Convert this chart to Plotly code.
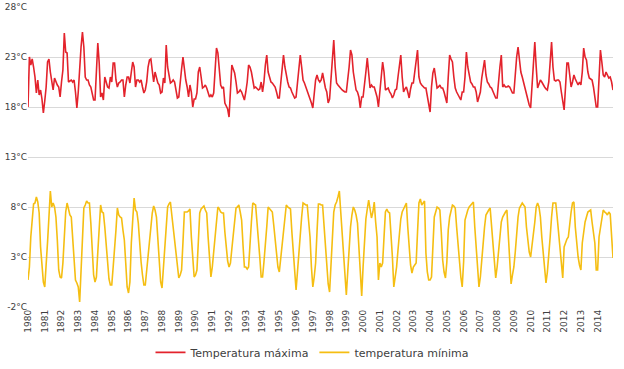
import plotly.graph_objects as go

year_labels = ["1980", "1981", "1892", "1983", "1984", "1985", "1986", "1987", "1988", "1989",
               "1990", "1991", "1992", "1993", "1994", "1995", "1996", "1997", "1998", "1999",
               "2000", "2001", "2002", "2003", "2004", "2005", "2006", "2007", "2008", "2009",
               "2010", "2011", "2012", "2013", "2014"]

y_ticks = [-2, 3, 8, 13, 18, 23, 28]
y_tick_labels = ["-2°C", "3°C", "8°C", "13°C", "18°C", "23°C", "28°C"]

# monthly maximum temperature, Jan 1980 - Dec 2014 (one row per year)
tmax = [
    18.0, 23.0, 22.2, 22.8, 22.0, 21.0, 19.4, 20.7, 19.2, 19.7, 18.8, 17.4,
    18.6, 20.0, 22.5, 22.8, 21.5, 20.7, 19.7, 20.9, 20.5, 20.2, 20.0, 19.0,
    20.5, 21.7, 25.4, 23.5, 23.4, 20.5, 20.6, 20.7, 20.5, 20.7, 19.5, 17.9,
    19.5, 22.0, 24.0, 25.5, 24.0, 21.0, 20.7, 20.7, 20.2, 20.0, 19.4, 18.7,
    18.7, 21.0, 24.4, 22.4, 19.0, 19.4, 18.7, 21.0, 20.5, 20.0, 19.9, 21.0,
    20.5, 22.4, 22.4, 20.7, 20.0, 20.4, 20.5, 20.7, 20.7, 19.0, 20.2, 21.0,
    21.0, 20.4, 21.5, 22.5, 22.0, 20.0, 20.7, 20.7, 20.5, 20.7, 20.0, 19.4,
    19.7, 20.5, 22.0, 22.7, 22.8, 21.7, 20.5, 21.5, 21.0, 20.4, 20.2, 19.4,
    19.5, 20.9, 20.4, 24.2, 22.0, 21.0, 20.4, 20.5, 20.7, 20.5, 19.8, 18.9,
    19.0, 20.7, 21.8, 23.0, 21.5, 20.7, 20.0, 19.0, 20.2, 19.5, 18.0, 18.8,
    18.8, 19.4, 21.5, 22.0, 21.0, 19.9, 20.0, 20.2, 19.9, 19.5, 19.0, 19.2,
    19.0, 19.4, 21.5, 23.9, 23.4, 21.5, 20.2, 19.9, 20.0, 18.4, 18.0, 17.8,
    17.0, 19.5, 22.2, 21.8, 21.4, 20.5, 19.4, 19.5, 19.7, 19.5, 19.0, 18.7,
    19.5, 20.5, 22.2, 22.0, 21.5, 20.5, 19.9, 20.0, 19.8, 19.7, 19.8, 20.5,
    19.5, 20.5, 22.2, 23.2, 21.5, 20.9, 20.5, 20.4, 20.2, 20.0, 19.5, 18.9,
    18.9, 20.5, 22.4, 23.2, 22.0, 21.0, 20.5, 20.0, 19.9, 19.5, 19.2, 18.9,
    19.0, 20.2, 21.4, 23.2, 22.0, 20.7, 20.4, 20.0, 19.8, 19.4, 19.0, 18.4,
    17.9, 19.5, 20.7, 21.2, 20.7, 20.5, 20.7, 21.4, 20.5, 19.9, 19.5, 18.4,
    18.8, 21.0, 23.2, 24.7, 22.0, 20.4, 20.2, 20.0, 19.9, 19.7, 19.6, 19.5,
    19.5, 20.5, 22.0, 23.7, 23.2, 21.5, 20.5, 19.7, 19.5, 19.0, 17.9, 19.0,
    19.0, 20.0, 21.5, 22.9, 21.0, 19.9, 20.2, 20.0, 20.0, 19.5, 19.0, 18.0,
    19.7, 21.0, 22.5, 21.5, 19.7, 19.8, 19.9, 19.5, 19.3, 18.9, 19.2, 19.7,
    19.8, 21.0, 22.2, 23.2, 21.0, 19.5, 19.8, 20.0, 19.5, 18.9, 19.8, 20.4,
    20.4, 21.5, 22.5, 23.7, 21.0, 20.4, 20.2, 20.0, 19.9, 19.9, 19.0, 18.0,
    17.5, 20.0, 21.4, 21.9, 21.0, 19.9, 20.0, 20.2, 19.9, 19.9, 19.5, 18.8,
    18.4, 21.0, 23.2, 22.8, 22.5, 21.0, 19.9, 19.5, 19.2, 18.9, 18.7, 19.5,
    19.5, 21.0, 23.5, 22.0, 21.0, 20.5, 20.3, 20.0, 20.0, 19.5, 18.5, 19.0,
    19.5, 20.9, 21.8, 22.7, 21.2, 20.5, 20.3, 20.0, 19.9, 19.5, 19.2, 18.9,
    18.9, 20.7, 22.0, 23.2, 20.0, 20.2, 20.0, 20.0, 20.1, 20.0, 19.7, 19.4,
    19.4, 21.5, 23.0, 24.0, 22.5, 21.5, 21.0, 20.4, 20.0, 19.5, 18.8, 18.2,
    17.9, 20.5, 22.7, 24.5, 22.0, 19.9, 20.3, 20.7, 20.5, 20.2, 20.0, 19.8,
    19.7, 20.5, 22.5, 24.5, 22.0, 20.7, 20.6, 20.7, 20.7, 20.5, 19.5, 18.5,
    17.7, 20.0, 22.4, 22.4, 21.0, 20.0, 20.5, 21.2, 20.8, 20.5, 20.2, 20.5,
    20.2, 21.5, 23.9, 23.0, 22.7, 21.5, 20.9, 20.8, 20.7, 20.0, 19.0, 18.0,
    18.0, 21.0, 23.7, 22.5, 21.2, 21.0, 21.5, 21.2, 20.9, 21.0, 20.5, 19.7,
]

# monthly minimum temperature, Jan 1980 - Dec 2014 (one row per year)
tmin = [
    0.7, 2.0, 5.0, 7.0, 8.3, 8.4, 9.0, 8.5, 7.4, 4.0, 1.8, 0.5,
    0.0, 1.8, 4.5, 7.0, 9.6, 8.0, 8.4, 8.0, 7.0, 4.7, 1.7, 1.0,
    0.9, 2.4, 5.0, 7.5, 8.4, 7.7, 7.2, 7.0, 5.0, 2.4, 0.7, 0.4,
    0.0, -1.5, 1.4, 5.5, 7.9, 8.2, 8.6, 8.4, 8.4, 6.4, 3.5, 1.2,
    0.5, 1.0, 3.5, 6.7, 8.2, 7.5, 7.4, 6.0, 4.5, 2.4, 0.8, 0.2,
    0.2, 2.0, 3.5, 5.7, 7.9, 7.2, 7.0, 6.9, 5.7, 4.7, 2.4, 0.0,
    -0.6, 0.5, 4.4, 6.7, 8.9, 7.7, 7.5, 6.4, 4.0, 2.5, 1.2, 0.2,
    0.2, 1.7, 3.5, 5.0, 6.5, 7.4, 8.1, 7.7, 7.0, 4.5, 2.4, 0.5,
    -0.1, 2.0, 4.0, 6.5, 8.0, 8.3, 8.5, 7.2, 6.0, 4.5, 3.4, 1.8,
    0.9, 1.2, 1.7, 4.5, 7.5, 7.5, 7.5, 7.6, 7.8, 5.0, 2.5, 1.0,
    1.2, 1.7, 4.5, 7.4, 7.8, 8.0, 8.1, 7.7, 7.4, 5.0, 2.8, 1.0,
    2.0, 3.5, 5.0, 6.5, 8.0, 7.8, 7.5, 7.4, 7.4, 5.5, 3.7, 2.6,
    2.0, 2.4, 3.8, 5.0, 6.5, 7.9, 8.0, 8.2, 7.5, 6.7, 4.2, 2.0,
    2.0, 1.8, 2.0, 4.7, 6.5, 8.4, 8.3, 8.2, 6.5, 5.0, 3.0, 1.0,
    1.0, 2.5, 4.0, 6.0, 8.0, 7.8, 7.6, 7.5, 6.2, 5.0, 3.5, 2.0,
    1.5, 2.8, 4.2, 5.4, 7.0, 8.2, 8.0, 7.9, 7.8, 5.5, 3.7, 1.5,
    -0.3, 1.5, 3.5, 5.0, 7.0, 8.4, 8.3, 8.2, 8.2, 6.5, 5.0, 2.0,
    0.0, 1.0, 2.4, 5.5, 8.3, 8.3, 8.2, 8.2, 6.0, 3.7, 1.5, 0.3,
    -0.5, 2.5, 5.7, 7.5, 8.2, 8.5, 9.0, 9.6, 7.5, 5.4, 2.5, 0.5,
    -0.8, 1.5, 4.0, 6.0, 7.2, 8.0, 7.7, 7.2, 6.4, 3.5, 1.0, -0.9,
    2.0, 5.0, 6.8, 7.8, 8.7, 7.8, 6.9, 7.5, 8.5, 6.5, 5.0, 0.7,
    2.4, 2.0, 2.4, 5.0, 7.5, 7.8, 7.5, 7.4, 5.5, 3.0, 0.0, 1.0,
    2.0, 3.7, 5.5, 6.8, 7.5, 7.8, 8.0, 8.4, 6.0, 3.7, 2.2, 1.4,
    2.0, 2.2, 2.4, 5.5, 8.4, 8.8, 8.2, 8.4, 8.6, 3.4, 1.5, 0.7,
    0.7, 1.0, 4.0, 7.0, 7.5, 8.0, 7.9, 7.7, 5.5, 2.7, 1.5, 0.9,
    2.5, 5.7, 7.0, 7.8, 8.2, 8.1, 7.9, 6.0, 4.0, 2.4, 1.0, 0.0,
    2.5, 6.7, 7.3, 7.7, 8.0, 8.2, 8.4, 8.5, 6.0, 3.7, 1.5, 0.0,
    1.0, 3.0, 4.5, 6.0, 7.2, 7.5, 7.7, 7.9, 6.0, 3.7, 2.0, 0.9,
    2.0, 3.7, 5.5, 6.5, 7.0, 7.3, 7.5, 7.7, 5.0, 2.5, 0.3, 1.2,
    2.0, 3.5, 5.5, 7.0, 7.9, 8.1, 8.4, 8.2, 8.0, 6.0, 4.4, 3.5,
    3.0, 4.0, 5.0, 6.5, 8.0, 8.4, 8.0, 7.0, 5.0, 3.5, 1.8, 0.4,
    1.5, 3.0, 5.0, 7.0, 8.4, 8.4, 8.4, 7.0, 5.5, 4.0, 2.0, 0.9,
    4.0, 4.5, 4.8, 5.0, 6.5, 7.5, 8.4, 8.5, 6.0, 4.0, 3.0, 2.2,
    1.7, 4.4, 5.5, 6.5, 7.0, 7.5, 7.6, 7.7, 6.5, 5.5, 4.4, 1.7,
    1.7, 5.0, 6.0, 7.0, 7.7, 7.5, 7.4, 7.2, 7.5, 7.3, 5.0, 2.9,
]

months = list(range(len(tmax)))
year_tick_pos = months[::12]

TEXT = "#404040"
FONT = "DejaVu Sans"

fig = go.Figure()
fig.add_trace(go.Scatter(x=months, y=tmax, mode="lines", name="Temperatura máxima",
                         line=dict(color="#E3232C", width=1.6)))
fig.add_trace(go.Scatter(x=months, y=tmin, mode="lines", name="temperatura mínima",
                         line=dict(color="#F5BE12", width=1.6)))

fig.update_layout(
    width=624, height=369,
    margin=dict(l=28, r=11, t=7, b=62, autoexpand=False),
    paper_bgcolor="white", plot_bgcolor="white",
    font=dict(family=FONT, color=TEXT, size=10),
    showlegend=True,
    legend=dict(orientation="h", xref="container", yref="container",
                x=0.5, xanchor="center", y=0.045, yanchor="middle",
                font=dict(size=11, color=TEXT), itemwidth=30,
                bgcolor="rgba(0,0,0,0)"),
    xaxis=dict(range=[0, len(tmax) - 1], tickmode="array", tickvals=year_tick_pos,
               ticktext=year_labels, tickangle=-90, showgrid=False, zeroline=False,
               showline=False, ticks="", tickfont=dict(size=9, color=TEXT)),
    yaxis=dict(range=[-2, 28], tickmode="array", tickvals=y_ticks, ticktext=y_tick_labels,
               showgrid=True, gridcolor="#D9D9D9", gridwidth=1, zeroline=False,
               showline=False, ticks="", ticklabelstandoff=0,
               tickfont=dict(size=9, color=TEXT)),
)

fig.write_html("out.html", config={"displayModeBar": False},
               post_script="document.body.style.margin='0';document.body.style.padding='0';")
